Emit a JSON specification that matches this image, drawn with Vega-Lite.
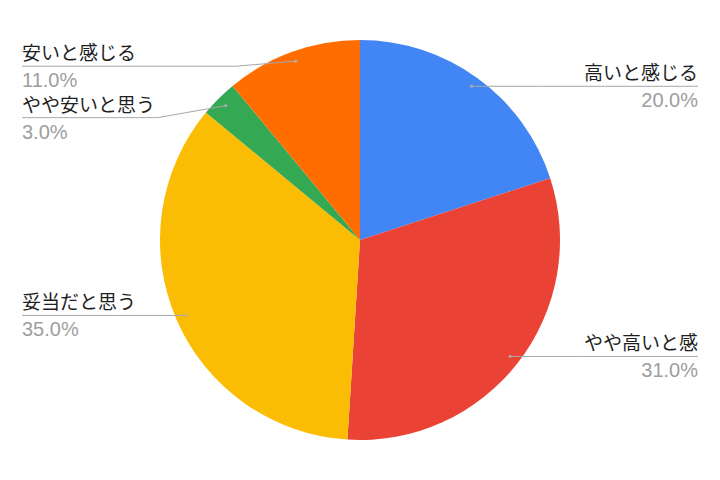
{
  "$schema": "https://vega.github.io/schema/vega-lite/v6.json",
  "width": 720,
  "height": 480,
  "autosize": {"type": "fit", "contains": "padding"},
  "padding": 0,
  "background": "white",
  "config": {"view": {"stroke": null}},
  "data": {
    "values": [
      {"name": "高いと感じる", "value": 20},
      {"name": "やや高いと感", "value": 31},
      {"name": "妥当だと思う", "value": 35},
      {"name": "やや安いと思う", "value": 3},
      {"name": "安いと感じる", "value": 11}
    ]
  },
  "transform": [
    {"window": [{"op": "row_number", "as": "idx"}]},
    {"window": [{"op": "sum", "field": "value", "as": "cum"}], "sort": [{"field": "idx"}], "frame": [null, 0]},
    {"calculate": "(datum.cum - datum.value / 2) / 100 * 2 * PI", "as": "mid"},
    {"calculate": "190 * sin(datum.mid)", "as": "px"},
    {"calculate": "190 * cos(datum.mid)", "as": "py"},
    {"calculate": "datum.px > 0 ? 1 : -1", "as": "side"},
    {"calculate": "datum.py + (datum.name === 'やや安いと思う' ? -12 : datum.name === '安いと感じる' ? -5 : 0)", "as": "ly"},
    {"calculate": "datum.side * 338", "as": "ex"},
    {"calculate": "datum.name === '安いと感じる' ? datum.px - 60 : datum.px + datum.side * 68", "as": "kx"},
    {"calculate": "format(datum.value, '.1f') + '%'", "as": "pct"}
  ],
  "layer": [
    {
      "mark": {"type": "arc", "outerRadius": 200},
      "encoding": {
        "theta": {"field": "value", "type": "quantitative", "stack": true},
        "order": {"field": "idx", "type": "quantitative"},
        "color": {
          "field": "name",
          "type": "nominal",
          "scale": {
            "domain": ["高いと感じる", "やや高いと感", "妥当だと思う", "やや安いと思う", "安いと感じる"],
            "range": ["#4285f4", "#ea4335", "#fbbc04", "#34a853", "#ff6d01"]
          },
          "legend": null
        }
      }
    },
    {
      "mark": {"type": "rule", "color": "#a8a8a8", "strokeWidth": 1},
      "encoding": {
        "x": {"field": "ex", "type": "quantitative", "scale": {"domain": [-360, 360], "nice": false, "zero": false}, "axis": null},
        "x2": {"field": "kx"},
        "y": {"field": "ly", "type": "quantitative", "scale": {"domain": [-240, 240], "nice": false, "zero": false}, "axis": null}
      }
    },
    {
      "mark": {"type": "rule", "color": "#a8a8a8", "strokeWidth": 1},
      "encoding": {
        "x": {"field": "kx", "type": "quantitative"},
        "x2": {"field": "px"},
        "y": {"field": "ly", "type": "quantitative"},
        "y2": {"field": "py"}
      }
    },
    {
      "mark": {"type": "point", "filled": true, "size": 8, "color": "#b0b0b0", "opacity": 1},
      "encoding": {
        "x": {"field": "px", "type": "quantitative"},
        "y": {"field": "py", "type": "quantitative"}
      }
    },
    {
      "mark": {
        "type": "text",
        "font": "Noto Sans CJK JP",
        "fontSize": 19,
        "color": "#1f1f1f",
        "baseline": "alphabetic",
        "dy": -6,
        "align": {"expr": "datum.side > 0 ? 'right' : 'left'"}
      },
      "encoding": {
        "x": {"field": "ex", "type": "quantitative"},
        "y": {"field": "ly", "type": "quantitative"},
        "text": {"field": "name"}
      }
    },
    {
      "mark": {
        "type": "text",
        "font": "Liberation Sans",
        "fontSize": 20,
        "color": "#9e9e9e",
        "baseline": "alphabetic",
        "dy": 21,
        "align": {"expr": "datum.side > 0 ? 'right' : 'left'"}
      },
      "encoding": {
        "x": {"field": "ex", "type": "quantitative"},
        "y": {"field": "ly", "type": "quantitative"},
        "text": {"field": "pct"}
      }
    }
  ]
}
